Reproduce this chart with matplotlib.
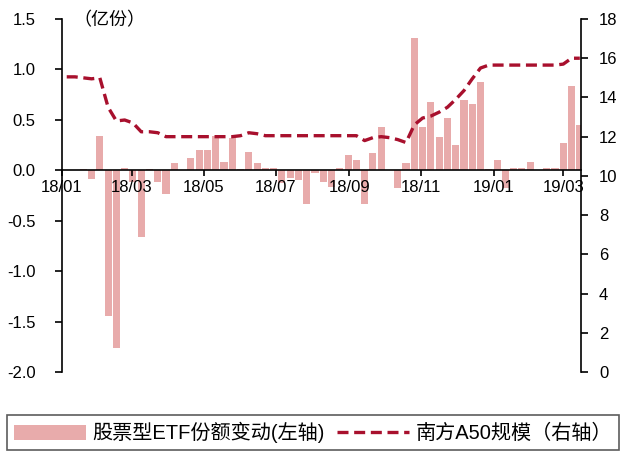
import matplotlib
matplotlib.use("Agg")
import matplotlib.pyplot as plt
import matplotlib.dates as mdates
import pandas as pd

plt.rcParams["font.family"] = ["Liberation Sans", "Noto Sans CJK SC"]
plt.rcParams["axes.unicode_minus"] = False

# weekly observations, 2018-01 .. 2019-03
weeks = pd.date_range("2018-01-05", periods=63, freq="7D")

etf_change = [
    0, 0, 0.01, -0.09, 0.34, -1.44, -1.76, 0.02, -0.12, -0.66,
    0.01, -0.12, -0.24, 0.07, 0, 0.12, 0.20, 0.20, 0.34, 0.08,
    0.32, 0.01, 0.18, 0.07, 0.02, 0.02, -0.13, -0.08, -0.10, -0.33,
    -0.03, -0.12, -0.17, 0.02, 0.15, 0.10, -0.33, 0.17, 0.43, 0,
    -0.18, 0.07, 1.31, 0.43, 0.68, 0.33, 0.52, 0.25, 0.70, 0.66,
    0.88, 0.01, 0.10, -0.18, 0.02, 0.02, 0.08, 0, 0.02, 0.02,
    0.27, 0.84, 0.45,
]

a50_size = [
    15.05, 15.05, 15.0, 14.95, 15.0, 13.5, 12.8, 12.85, 12.7, 12.25,
    12.25, 12.2, 12.0, 12.0, 12.0, 12.0, 12.0, 12.0, 12.0, 12.0,
    12.0, 12.05, 12.2, 12.15, 12.05, 12.05, 12.05, 12.05, 12.05, 12.05,
    12.05, 12.05, 12.05, 12.05, 12.05, 12.05, 11.8, 11.95, 12.0, 11.95,
    11.85, 11.7, 12.6, 12.95, 13.05, 13.25, 13.5, 13.9, 14.35, 14.95,
    15.5, 15.65, 15.65, 15.65, 15.65, 15.65, 15.65, 15.65, 15.65, 15.65,
    15.7, 16.0, 16.0,
]

left_ticks = [-2.0, -1.5, -1.0, -0.5, 0.0, 0.5, 1.0, 1.5]
right_ticks = [0, 2, 4, 6, 8, 10, 12, 14, 16, 18]

bar_color = "#E8ABAB"
line_color = "#A8102D"

fig = plt.figure(figsize=(6.22, 4.54), dpi=100)
ax = fig.add_axes([62 / 622, 1 - 372 / 454, 519 / 622, 353 / 454])
ax2 = ax.twinx()

bars = ax.bar(weeks, etf_change, width=6.0, color=bar_color, linewidth=0,
              label="股票型ETF份额变动(左轴)")
line, = ax2.plot(weeks, a50_size, color=line_color, linewidth=2.4,
                 dashes=(3.3, 1.7), label="南方A50规模（右轴）")

ax.set_ylim(-2.0, 1.5)
ax.set_yticks(left_ticks)
ax.set_yticklabels([f"{v:.1f}" for v in left_ticks])
ax2.set_ylim(0, 18)
ax2.set_yticks(right_ticks)

ax.set_xlim(pd.Timestamp("2018-01-01"), pd.Timestamp("2019-03-16"))
ax.xaxis.set_major_locator(mdates.MonthLocator(bymonth=[1, 3, 5, 7, 9, 11]))
ax.xaxis.set_major_formatter(mdates.DateFormatter("%y/%m"))

for a in (ax, ax2):
    a.spines["top"].set_visible(False)
    a.spines["bottom"].set_visible(False)
ax.spines["bottom"].set_visible(True)
ax.spines["bottom"].set_position(("data", 0))
for s in ("left", "bottom"):
    ax.spines[s].set_linewidth(1.2)
ax2.spines["right"].set_linewidth(1.2)
ax.spines["right"].set_visible(False)
ax2.spines["left"].set_visible(False)

ax.tick_params(axis="y", direction="out", length=5, width=1.2, pad=14, labelsize=12)
ax.tick_params(axis="x", direction="out", length=4, width=1.2, pad=3, labelsize=12)
ax2.tick_params(axis="y", direction="out", length=5, width=1.2, pad=8, labelsize=12)

ax.set_zorder(ax2.get_zorder() - 1)
ax.patch.set_visible(False)
ax2.patch.set_visible(False)

fig.text(73 / 622, 1 - 21 / 454, "（亿份）", ha="left", va="center", fontsize=13)

leg = fig.legend(handles=[bars, line], loc="center", bbox_to_anchor=(0.503, 0.047),
                 ncol=2, fontsize=14.5, frameon=True, fancybox=False,
                 edgecolor="#333333", handlelength=3.6, handleheight=0.8,
                 handletextpad=0.3, columnspacing=0.6, borderpad=0.35,
                 borderaxespad=0.3)
leg.get_frame().set_linewidth(1.2)

fig.savefig("out.png", dpi=100)
